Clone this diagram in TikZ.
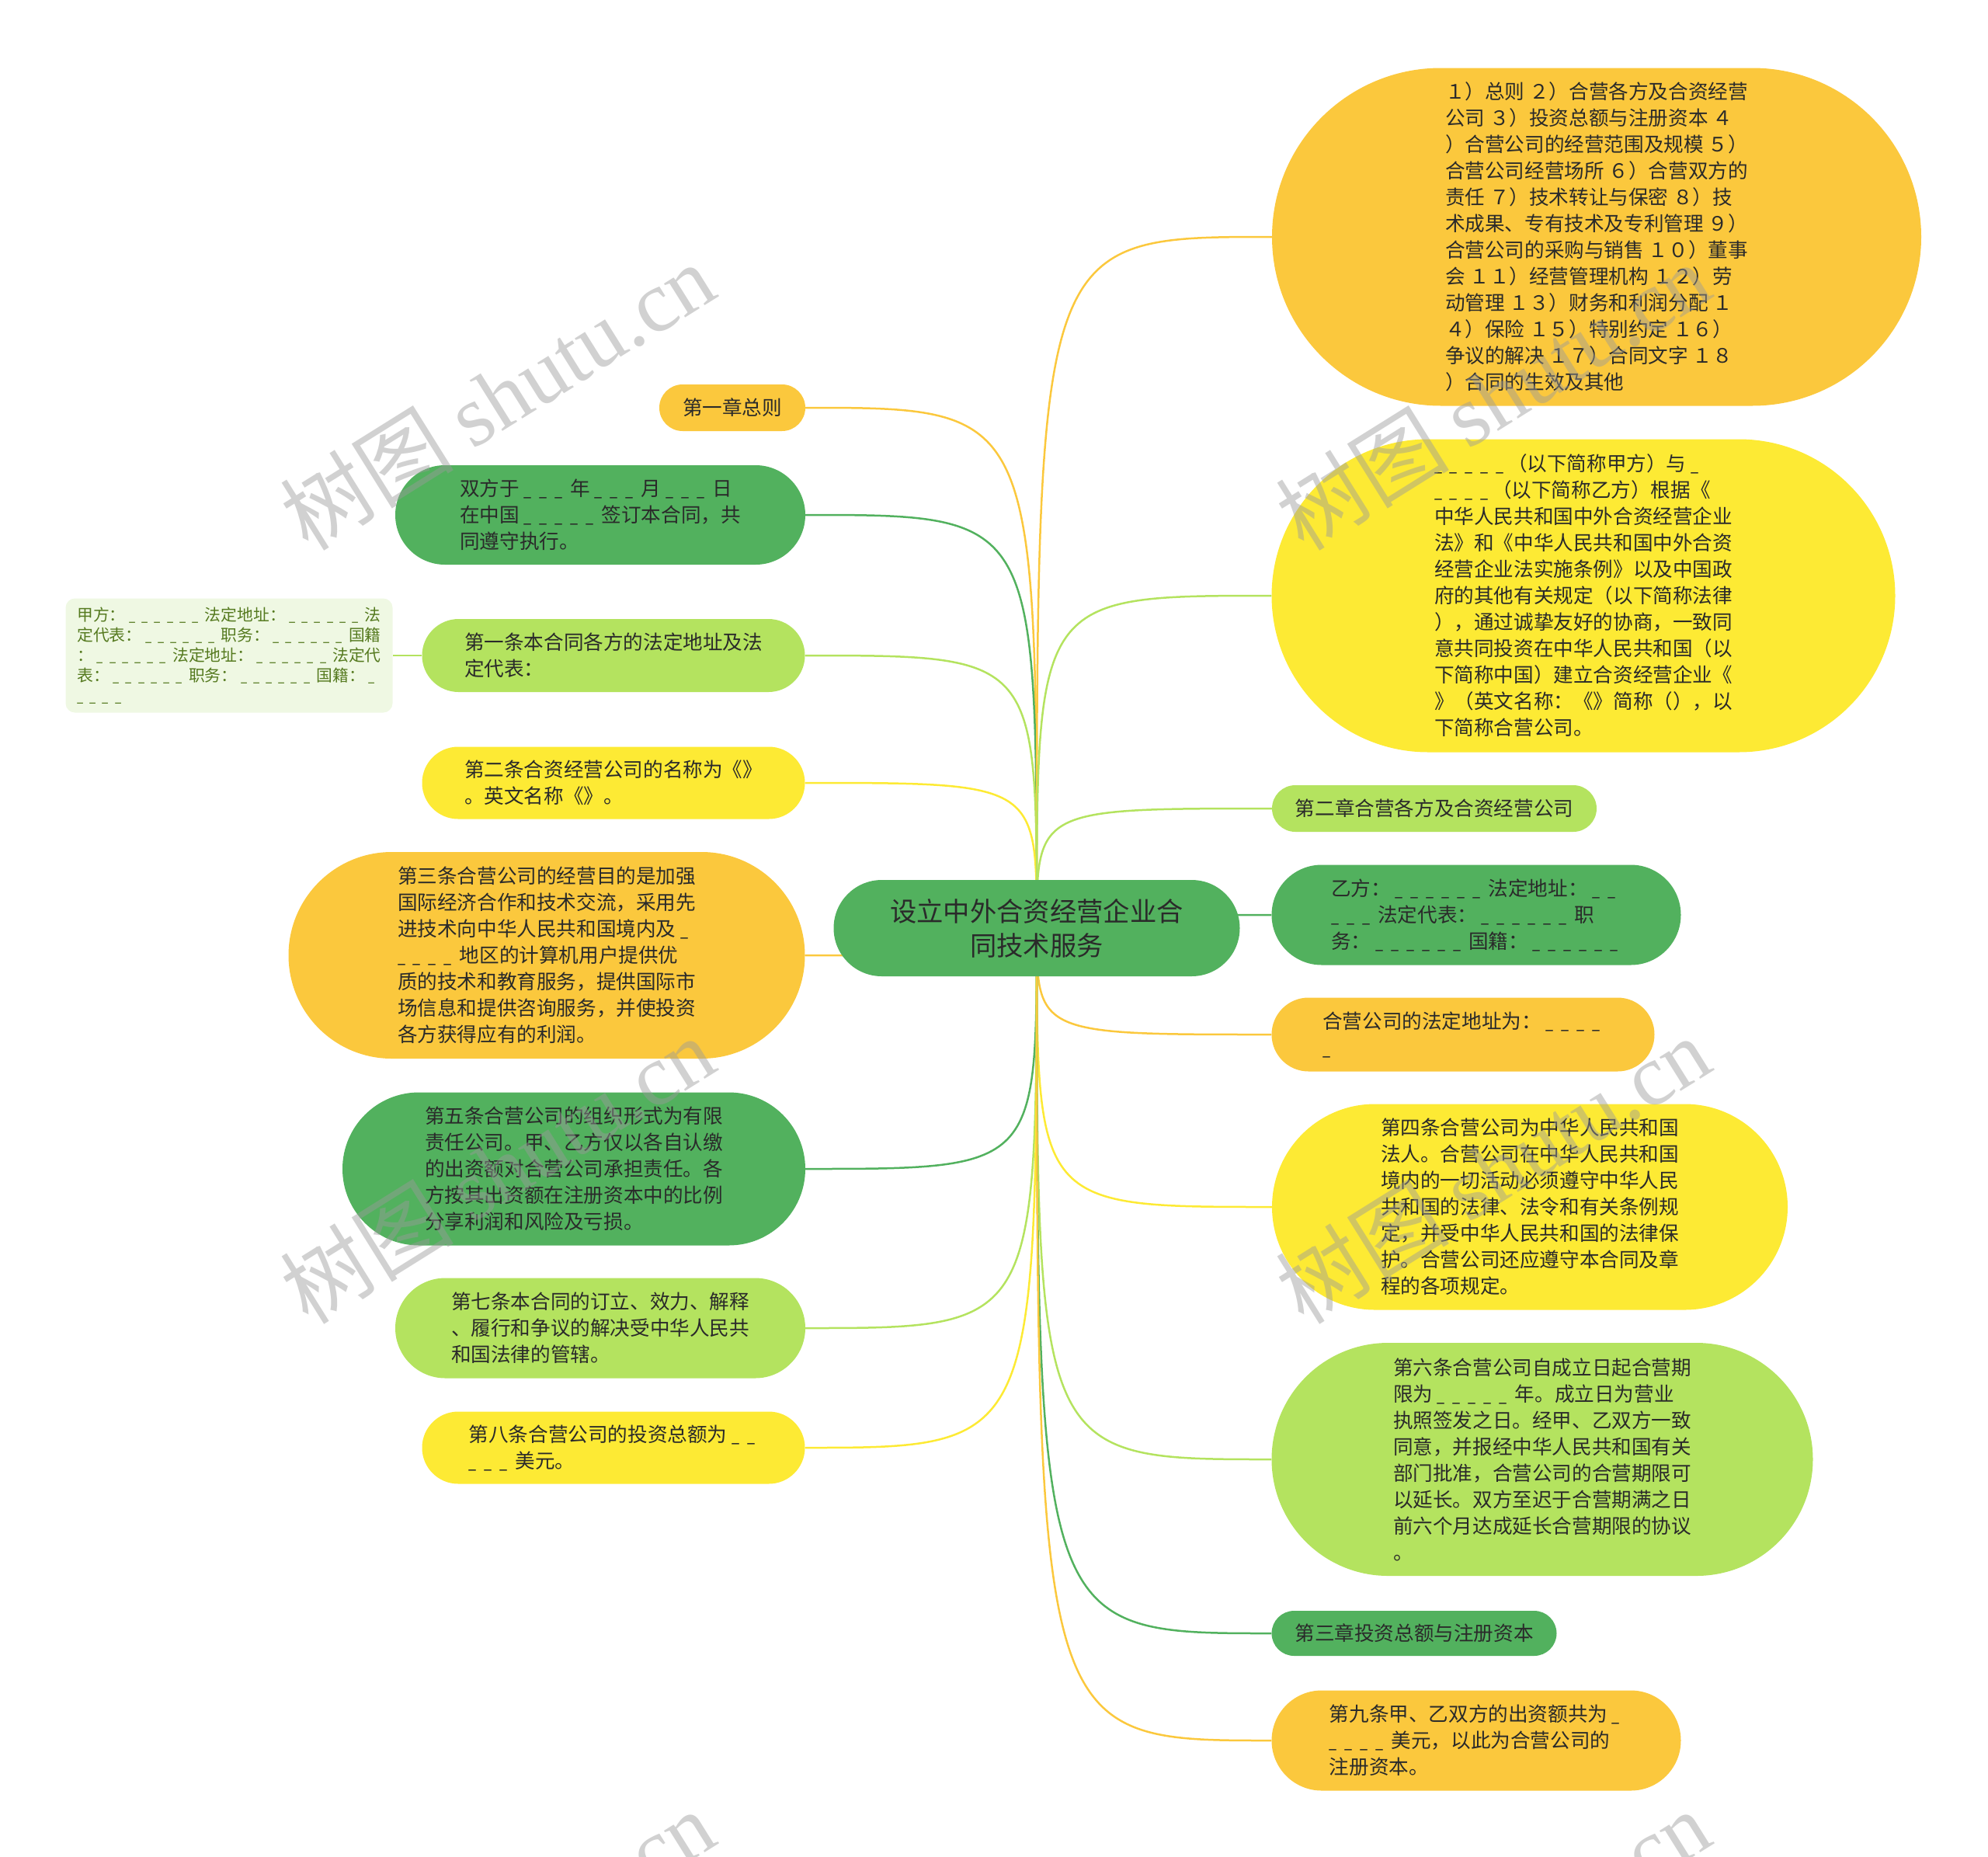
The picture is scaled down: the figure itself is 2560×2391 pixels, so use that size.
\documentclass[tikz,border=0pt]{standalone}
\usepackage{fontspec}
\usepackage{graphicx}
\setmainfont{Noto Sans CJK SC}
\newfontfamily\wmserif{Liberation Serif}
\usetikzlibrary{backgrounds}
\definecolor{cOr}{HTML}{FBC83D}
\definecolor{cYe}{HTML}{FDEA34}
\definecolor{cLg}{HTML}{B4E35F}
\definecolor{cDg}{HTML}{52B15E}
\definecolor{cBox}{HTML}{EFF8E3}
\definecolor{txt}{HTML}{2A2A2A}
\definecolor{boxtxt}{HTML}{557A1F}
\definecolor{wm}{HTML}{9A9A9A}
\tikzset{
  base/.style={rectangle, inner sep=0pt, align=left, text=txt, font=\fontsize{25.6}{34}\selectfont},
  sz/.style 2 args={minimum width=#1, minimum height=#2, rounded corners=#2*0.5},
  orbox/.style={base, fill=cOr},
  yebox/.style={base, fill=cYe},
  lgbox/.style={base, fill=cLg},
  dgbox/.style={base, fill=cDg},
  edge/.style={draw=#1, line width=2.5pt},
  wmark/.style={text=wm, opacity=0.45, rotate=32, font=\fontsize{112}{112}\selectfont, inner sep=0pt}
}
\newcommand{\us}{\scalebox{0.7}[1]{\_}\kern0.165em}
\begin{document}
\begin{tikzpicture}[x=1pt,y=-1pt]
\useasboundingbox (0,0) rectangle (2560,2391);
% root
\node[dgbox, sz={523pt}{124pt}, align=center, font=\fontsize{34.3}{44}\selectfont] (root) at (1335,1195) {设立中外合资经营企业合\\同技术服务};
% left
\node[orbox, sz={188pt}{60pt}] (l1) at (943,525) {第一章总则};
\node[dgbox, sz={528pt}{128pt}] (l2) at (773,663) {双方于 \us{} \us{} \us{} 年 \us{} \us{} \us{} 月 \us{} \us{} \us{} 日\\在中国 \us{} \us{} \us{} \us{} \us{} 签订本合同，共\\同遵守执行。};
\node[lgbox, sz={493pt}{94pt}] (l3) at (790,844) {第一条本合同各方的法定地址及法\\定代表：};
\node[base, fill=cBox, text=boxtxt, minimum width=421pt, minimum height=147pt, rounded corners=12pt, font=\fontsize{20.8}{26}\selectfont] (lbox) at (295,844) {甲方： \us{} \us{} \us{} \us{} \us{} \us{} 法定地址： \us{} \us{} \us{} \us{} \us{} \us{} 法\\定代表： \us{} \us{} \us{} \us{} \us{} \us{} 职务： \us{} \us{} \us{} \us{} \us{} \us{} 国籍\\： \us{} \us{} \us{} \us{} \us{} \us{} 法定地址： \us{} \us{} \us{} \us{} \us{} \us{} 法定代\\表： \us{} \us{} \us{} \us{} \us{} \us{} 职务： \us{} \us{} \us{} \us{} \us{} \us{} 国籍： \us{}\\\us{} \us{} \us{} \us{}};
\node[yebox, sz={493pt}{93pt}] (l4) at (790,1008) {第二条合资经营公司的名称为《》\\。英文名称《》。};
\node[orbox, sz={665pt}{266pt}] (l5) at (704,1230) {第三条合营公司的经营目的是加强\\国际经济合作和技术交流，采用先\\进技术向中华人民共和国境内及 \us\\\us{} \us{} \us{} \us{} 地区的计算机用户提供优\\质的技术和教育服务，提供国际市\\场信息和提供咨询服务，并使投资\\各方获得应有的利润。};
\node[dgbox, sz={596pt}{197pt}] (l6) at (739,1505) {第五条合营公司的组织形式为有限\\责任公司。甲、乙方仅以各自认缴\\的出资额对合营公司承担责任。各\\方按其出资额在注册资本中的比例\\分享利润和风险及亏损。};
\node[lgbox, sz={528pt}{129pt}] (l7) at (773,1710) {第七条本合同的订立、效力、解释\\、履行和争议的解决受中华人民共\\和国法律的管辖。};
\node[yebox, sz={493pt}{93pt}] (l8) at (790,1864) {第八条合营公司的投资总额为 \us{} \us\\\us{} \us{} \us{} 美元。};
% right
\node[orbox, sz={836pt}{435pt}] (r1) at (2056,305) {１）总则 ２）合营各方及合资经营\\公司 ３）投资总额与注册资本 ４\\）合营公司的经营范围及规模 ５）\\合营公司经营场所 ６）合营双方的\\责任 ７）技术转让与保密 ８）技\\术成果、专有技术及专利管理 ９）\\合营公司的采购与销售 １０）董事\\会 １１）经营管理机构 １２）劳\\动管理 １３）财务和利润分配 １\\４）保险 １５）特别约定 １６）\\争议的解决 １７）合同文字 １８\\）合同的生效及其他};
\node[yebox, sz={803pt}{403pt}] (r2) at (2039,767) {\us{} \us{} \us{} \us{} \us{}（以下简称甲方）与 \us\\\us{} \us{} \us{} \us{}（以下简称乙方）根据《\\中华人民共和国中外合资经营企业\\法》和《中华人民共和国中外合资\\经营企业法实施条例》以及中国政\\府的其他有关规定（以下简称法律\\），通过诚挚友好的协商，一致同\\意共同投资在中华人民共和国（以\\下简称中国）建立合资经营企业《\\》（英文名称：《》简称（），以\\下简称合营公司。};
\node[lgbox, sz={418pt}{60pt}] (r3) at (1847,1041) {第二章合营各方及合资经营公司};
\node[dgbox, sz={527pt}{129pt}] (r4) at (1901,1178) {乙方： \us{} \us{} \us{} \us{} \us{} \us{} 法定地址： \us{} \us\\\us{} \us{} \us{} 法定代表： \us{} \us{} \us{} \us{} \us{} \us{} 职\\务： \us{} \us{} \us{} \us{} \us{} \us{} 国籍： \us{} \us{} \us{} \us{} \us{} \us};
\node[orbox, sz={493pt}{95pt}] (r5) at (1884,1332) {合营公司的法定地址为： \us{} \us{} \us{} \us\\\us};
\node[yebox, sz={664pt}{265pt}] (r6) at (1970,1554) {第四条合营公司为中华人民共和国\\法人。合营公司在中华人民共和国\\境内的一切活动必须遵守中华人民\\共和国的法律、法令和有关条例规\\定，并受中华人民共和国的法律保\\护。合营公司还应遵守本合同及章\\程的各项规定。};
\node[lgbox, sz={697pt}{300pt}] (r7) at (1986,1879) {第六条合营公司自成立日起合营期\\限为 \us{} \us{} \us{} \us{} \us{} 年。成立日为营业\\执照签发之日。经甲、乙双方一致\\同意，并报经中华人民共和国有关\\部门批准，合营公司的合营期限可\\以延长。双方至迟于合营期满之日\\前六个月达成延长合营期限的协议\\。};
\node[dgbox, sz={367pt}{58pt}] (r8) at (1821,2103) {第三章投资总额与注册资本};
\node[orbox, sz={527pt}{129pt}] (r9) at (1901,2241) {第九条甲、乙双方的出资额共为 \us\\\us{} \us{} \us{} \us{} 美元，以此为合营公司的\\注册资本。};
% connectors
\begin{scope}[on background layer]
\draw[edge=cOr] (root.center) .. controls (root.center |- l1.east) .. (l1.east);
\draw[edge=cDg] (root.center) .. controls (root.center |- l2.east) .. (l2.east);
\draw[edge=cLg] (root.center) .. controls (root.center |- l3.east) .. (l3.east);
\draw[edge=cYe] (root.center) .. controls (root.center |- l4.east) .. (l4.east);
\draw[edge=cOr] (root.center) .. controls (root.center |- l5.east) .. (l5.east);
\draw[edge=cDg] (root.center) .. controls (root.center |- l6.east) .. (l6.east);
\draw[edge=cLg] (root.center) .. controls (root.center |- l7.east) .. (l7.east);
\draw[edge=cYe] (root.center) .. controls (root.center |- l8.east) .. (l8.east);
\draw[edge=cOr] (root.center) .. controls (root.center |- r1.west) .. (r1.west);
\draw[edge=cLg] (root.center) .. controls (root.center |- r2.west) .. (r2.west);
\draw[edge=cLg] (root.center) .. controls (root.center |- r3.west) .. (r3.west);
\draw[edge=cDg] (root.center) .. controls (root.center |- r4.west) .. (r4.west);
\draw[edge=cOr] (root.center) .. controls (root.center |- r5.west) .. (r5.west);
\draw[edge=cYe] (root.center) .. controls (root.center |- r6.west) .. (r6.west);
\draw[edge=cLg] (root.center) .. controls (root.center |- r7.west) .. (r7.west);
\draw[edge=cDg] (root.center) .. controls (root.center |- r8.west) .. (r8.west);
\draw[edge=cOr] (root.center) .. controls (root.center |- r9.west) .. (r9.west);
\draw[edge=cLg] (l3.west) -- (lbox.east);
\end{scope}
% watermarks
\node[wmark] (w1) at (640,510) {树图 {\wmserif shutu.cn}};
\node[wmark] (w2) at (1922,510) {树图 {\wmserif shutu.cn}};
\node[wmark] (w3) at (640,1506) {树图 {\wmserif shutu.cn}};
\node[wmark] (w4) at (1922,1506) {树图 {\wmserif shutu.cn}};
\node[wmark] (w5) at (640,2502) {树图 {\wmserif shutu.cn}};
\node[wmark] (w6) at (1922,2502) {树图 {\wmserif shutu.cn}};
\end{tikzpicture}
\end{document}
